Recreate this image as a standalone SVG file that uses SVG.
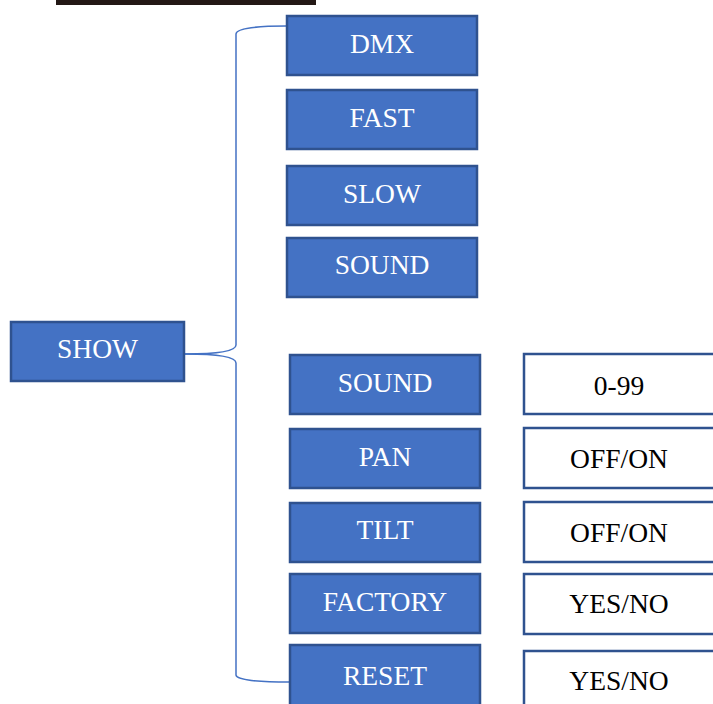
<svg xmlns="http://www.w3.org/2000/svg" width="713" height="704" viewBox="0 0 713 704">
<style>
.b rect{fill:#4472C4;stroke:#2F528F;stroke-width:2.5}
.b text{fill:#fff;font-family:"Liberation Serif",serif;font-size:27.5px;text-anchor:middle}
.w rect{fill:#fff;stroke:#2F528F;stroke-width:2.5}
.w text{fill:#000;font-family:"Liberation Serif",serif;font-size:27.5px;text-anchor:middle}
.c path{fill:none;stroke:#4472C4;stroke-width:1.5}
</style>
<rect x="56" y="0" width="260" height="5" fill="#231815"/>
<g class="c" id="connectors">
<path d="M185,354 C215,354 236,352 236,345 L236,34 C236,28 260,26 286,26"/>
<path d="M185,354 C215,354 236,356 236,363 L236,675 C236,680 260,682 289,682"/>
</g>
<g class="b" id="show"><rect x="11" y="322" width="173" height="59"/><text x="97.5" y="358">SHOW</text></g>
<g class="b" id="dmx"><rect x="287" y="16" width="190" height="59"/><text x="382" y="53">DMX</text></g>
<g class="b" id="fast"><rect x="287" y="90" width="190" height="59"/><text x="382" y="127">FAST</text></g>
<g class="b" id="slow"><rect x="287" y="166" width="190" height="59"/><text x="382" y="203">SLOW</text></g>
<g class="b" id="sound1"><rect x="287" y="238" width="190" height="59"/><text x="382" y="274">SOUND</text></g>
<g class="b" id="sound2"><rect x="290" y="355" width="190" height="59"/><text x="385" y="392">SOUND</text></g>
<g class="b" id="pan"><rect x="290" y="429" width="190" height="59"/><text x="385" y="466">PAN</text></g>
<g class="b" id="tilt"><rect x="290" y="503" width="190" height="59"/><text x="385" y="539">TILT</text></g>
<g class="b" id="factory"><rect x="290" y="574" width="190" height="59"/><text x="385" y="611">FACTORY</text></g>
<g class="b" id="reset"><rect x="290" y="645" width="190" height="62"/><text x="385" y="685">RESET</text></g>
<g class="w" id="v099"><rect x="524" y="354" width="195" height="60"/><text x="619" y="395">0-99</text></g>
<g class="w" id="vpan"><rect x="524" y="428" width="195" height="60"/><text x="619" y="468">OFF/ON</text></g>
<g class="w" id="vtilt"><rect x="524" y="502" width="195" height="60"/><text x="619" y="542">OFF/ON</text></g>
<g class="w" id="vfactory"><rect x="524" y="574" width="195" height="60"/><text x="619" y="613">YES/NO</text></g>
<g class="w" id="vreset"><rect x="524" y="651" width="195" height="60"/><text x="619" y="690">YES/NO</text></g>
</svg>
